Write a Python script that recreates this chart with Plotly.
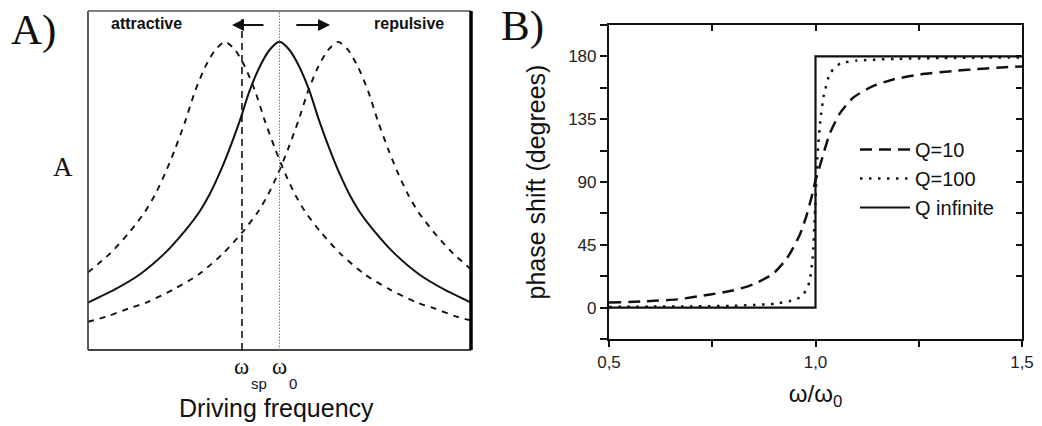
import plotly.graph_objects as go

# ---------------- Panel A data (normalised driving frequency, amplitude a.u.) ----------------
omega_0 = 1.0
omega_sp = 0.902

a_x_center = [0.500, 0.569, 0.634, 0.700, 0.752, 0.791, 0.817, 0.843, 0.869, 0.896, 0.922, 0.948, 0.974,
              1.000, 1.026, 1.052, 1.078, 1.104, 1.131, 1.157, 1.183, 1.209, 1.248, 1.300, 1.366, 1.431, 1.500]
a_y_center = [0.140, 0.178, 0.222, 0.285, 0.350, 0.408, 0.458, 0.520, 0.592, 0.675, 0.765, 0.835, 0.885,
              0.909, 0.885, 0.835, 0.765, 0.675, 0.592, 0.520, 0.458, 0.408, 0.350, 0.285, 0.222, 0.178, 0.140]

a_x_left = [0.500, 0.558, 0.610, 0.649, 0.675, 0.701, 0.727, 0.754, 0.780, 0.806, 0.832, 0.858, 0.884,
            0.910, 0.936, 0.962, 0.989, 1.015, 1.041, 1.067, 1.106, 1.158, 1.224, 1.289, 1.359, 1.406,
            1.458, 1.500]
a_y_left = [0.229, 0.285, 0.350, 0.408, 0.458, 0.520, 0.592, 0.675, 0.765, 0.835, 0.885, 0.909, 0.885,
            0.835, 0.765, 0.675, 0.592, 0.520, 0.458, 0.408, 0.350, 0.285, 0.222, 0.178, 0.140, 0.122,
            0.100, 0.087]

a_x_right = [0.500, 0.552, 0.605, 0.652, 0.722, 0.788, 0.853, 0.905, 0.944, 0.970, 0.996, 1.022, 1.049,
             1.075, 1.101, 1.127, 1.153, 1.179, 1.205, 1.231, 1.257, 1.284, 1.310, 1.336, 1.362, 1.401,
             1.453, 1.500]
a_y_right = [0.083, 0.100, 0.122, 0.140, 0.178, 0.222, 0.285, 0.350, 0.408, 0.458, 0.520, 0.592, 0.675,
             0.765, 0.835, 0.885, 0.909, 0.885, 0.835, 0.765, 0.675, 0.592, 0.520, 0.458, 0.408, 0.350,
             0.285, 0.238]

# ---------------- Panel B data (phase shift in degrees vs omega/omega_0) ----------------
b_x_q10 = [0.5, 0.592, 0.665, 0.745, 0.8, 0.849, 0.897, 0.931, 0.962, 0.979, 0.992, 0.999, 1.016,
           1.035, 1.059, 1.091, 1.139, 1.188, 1.253, 1.333, 1.406, 1.459, 1.5]
b_y_q10 = [3.6, 4.6, 5.9, 9.4, 12.2, 16.7, 24.2, 35.4, 52.2, 66.7, 81.0, 90.0, 107.0,
           125.0, 139.2, 150.4, 158.7, 163.5, 167.0, 169.5, 171.2, 172.3, 172.8]

b_x_q100 = [0.5, 0.6, 0.7, 0.8, 0.9, 0.95, 0.97, 0.985, 0.993, 0.999, 1.005, 1.012, 1.02, 1.035,
            1.06, 1.1, 1.2, 1.3, 1.4, 1.5]
b_y_q100 = [0.5, 0.7, 0.9, 1.3, 2.7, 5.5, 9.0, 18.0, 35.0, 70.0, 110.0, 135.0, 152.0, 168.0,
            175.0, 177.0, 178.3, 178.8, 179.1, 179.3]

b_x_qinf = [0.5, 1.0, 1.0, 1.5]
b_y_qinf = [0.0, 0.0, 180.0, 180.0]

b_xtick_vals = [0.5, 1.0, 1.5]
b_xtick_text = ["0,5", "1,0", "1,5"]
b_ytick_vals = [0, 45, 90, 135, 180]

SANS = "Liberation Sans, Arial, sans-serif"
SERIF = "Liberation Serif, Times New Roman, serif"
INK = "#111111"

fig = go.Figure()

# Panel A curves
fig.add_trace(go.Scatter(x=a_x_left, y=a_y_left, mode="lines", line=dict(color=INK, width=1.9, dash="6px,6px", shape="spline", smoothing=0.7),
                         xaxis="x", yaxis="y", showlegend=False, hoverinfo="skip"))
fig.add_trace(go.Scatter(x=a_x_right, y=a_y_right, mode="lines", line=dict(color=INK, width=1.9, dash="6px,6px", shape="spline", smoothing=0.7),
                         xaxis="x", yaxis="y", showlegend=False, hoverinfo="skip"))
fig.add_trace(go.Scatter(x=a_x_center, y=a_y_center, mode="lines", line=dict(color=INK, width=2, shape="spline", smoothing=0.7),
                         xaxis="x", yaxis="y", showlegend=False, hoverinfo="skip"))

# Panel B curves
fig.add_trace(go.Scatter(x=b_x_q10, y=b_y_q10, mode="lines", name="Q=10",
                         line=dict(color=INK, width=2.5, dash="12px,7px", shape="spline", smoothing=0.6),
                         xaxis="x2", yaxis="y2"))
fig.add_trace(go.Scatter(x=b_x_q100, y=b_y_q100, mode="lines", name="Q=100",
                         line=dict(color=INK, width=2.5, dash="2.5px,6.5px", shape="spline", smoothing=0.4),
                         xaxis="x2", yaxis="y2"))
fig.add_trace(go.Scatter(x=b_x_qinf, y=b_y_qinf, mode="lines", name="Q infinite",
                         line=dict(color=INK, width=2.2),
                         xaxis="x2", yaxis="y2"))
# helper (empty) trace so the mirrored tick axes of panel B are drawn
fig.add_trace(go.Scatter(x=[], y=[], xaxis="x3", yaxis="y3", showlegend=False, hoverinfo="skip"))

W, H = 1042, 426
A_dom_x = [88 / W, 471 / W]
A_dom_y = [1 - 350 / H, 1 - 11 / H]
B_dom_x = [609 / W, 1022 / W]
B_dom_y = [1 - 339 / H, 1 - 25 / H]

b_xrange = [0.5, 1.5]
b_yrange = [-22.5, 202.5]

fig.update_layout(
    width=W, height=H,
    margin=dict(l=0, r=0, t=0, b=0, autoexpand=False),
    paper_bgcolor="white", plot_bgcolor="white",
    font=dict(family=SANS, color=INK),
    xaxis=dict(domain=A_dom_x, range=[0.5, 1.5], showgrid=False, zeroline=False, showticklabels=False,
               ticks="", showline=False, anchor="y", automargin=False),
    yaxis=dict(domain=A_dom_y, range=[0, 1], showgrid=False, zeroline=False, showticklabels=False,
               ticks="", showline=False, anchor="x", automargin=False),
    xaxis2=dict(domain=B_dom_x, range=b_xrange, anchor="y2", showgrid=False, zeroline=False, automargin=False,
                showline=True, linecolor=INK, linewidth=2.2, mirror=True,
                tickmode="array", tickvals=b_xtick_vals, ticktext=b_xtick_text,
                ticks="outside", ticklen=6, tickwidth=2, tickcolor=INK,
                minor=dict(tickvals=[0.75, 1.25], ticks="outside", ticklen=6, tickwidth=2, tickcolor=INK, showgrid=False),
                tickfont=dict(size=17, family=SANS, color="#222"),
                title=dict(text="ω/ω<sub>0</sub>", font=dict(size=24, family=SANS, color=INK))),
    yaxis2=dict(domain=B_dom_y, range=b_yrange, anchor="x2", showgrid=False, zeroline=False, automargin=False,
                showline=True, linecolor=INK, linewidth=2.2, mirror=True,
                tickmode="array", tickvals=b_ytick_vals,
                ticks="outside", ticklen=7, tickwidth=2, tickcolor=INK,
                minor=dict(tickvals=[-22.5, 22.5, 67.5, 112.5, 157.5, 202.5], ticks="outside", ticklen=7, tickwidth=2, tickcolor=INK, showgrid=False),
                tickfont=dict(size=17, family=SANS, color="#222"),
                title=dict(text="phase shift (degrees)", font=dict(size=25, family=SANS, color=INK))),
    xaxis3=dict(overlaying="x2", side="top", anchor="y2", range=b_xrange, showgrid=False, zeroline=False,
                automargin=False, showline=False, showticklabels=False, tickmode="array", tickvals=[0.75, 1.0, 1.25],
                ticks="inside", ticklen=6, tickwidth=2, tickcolor=INK),
    yaxis3=dict(overlaying="y2", side="right", anchor="x2", range=b_yrange, showgrid=False, zeroline=False,
                automargin=False, showline=False, showticklabels=False, tickmode="array",
                tickvals=[22.5, 45, 67.5, 90, 112.5, 135, 157.5, 180],
                ticks="inside", ticklen=6, tickwidth=2, tickcolor=INK),
    legend=dict(x=855 / W, y=1 - 130 / H, xanchor="left", yanchor="top", bgcolor="rgba(0,0,0,0)",
                font=dict(size=20, family=SANS, color=INK), tracegroupgap=0, itemwidth=50),
    showlegend=True,
)

# Panel A frame
frame = [
    dict(x0=0, x1=0, y0=0, y1=1, color="#333", width=1.6),
    dict(x0=0, x1=1, y0=1, y1=1, color="#555", width=1.6),
    dict(x0=0, x1=1, y0=0, y1=0, color="#444", width=2.2),
    dict(x0=1, x1=1, y0=0, y1=1, color="#000", width=3.5),
]
for f in frame:
    fig.add_shape(type="line", xref="x domain", yref="y domain", x0=f["x0"], x1=f["x1"], y0=f["y0"], y1=f["y1"],
                  line=dict(color=f["color"], width=f["width"]))

# reference lines in panel A
fig.add_shape(type="line", xref="x", yref="y domain", x0=omega_sp, x1=omega_sp, y0=0, y1=0.988,
              line=dict(color=INK, width=1.6, dash="7px,5px"))
fig.add_shape(type="line", xref="x", yref="y domain", x0=omega_0, x1=omega_0, y0=0, y1=1,
              line=dict(color="#777", width=1, dash="1.5px,1.5px"))

# arrows
arrow_y = 1 - 25 / H
fig.add_annotation(x=omega_0 - 0.124, y=arrow_y, xref="x", yref="paper", ax=omega_0 - 0.038, ay=0,
                   axref="x", ayref="pixel", showarrow=True, arrowhead=2, arrowsize=1.2, arrowwidth=2,
                   arrowcolor=INK, text="")
fig.add_annotation(x=omega_0 + 0.132, y=arrow_y, xref="x", yref="paper", ax=omega_0 + 0.040, ay=0,
                   axref="x", ayref="pixel", showarrow=True, arrowhead=2, arrowsize=1.2, arrowwidth=2,
                   arrowcolor=INK, text="")

annots = [
    dict(text="<b>attractive</b>", x=146 / W, y=1 - 23 / H, size=16, family=SANS),
    dict(text="<b>repulsive</b>", x=409 / W, y=1 - 23 / H, size=16, family=SANS),
    dict(text="A", x=63 / W, y=1 - 167 / H, size=27, family=SERIF),
    dict(text="A)", x=33 / W, y=1 - 30 / H, size=43, family=SERIF),
    dict(text="B)", x=522 / W, y=1 - 26 / H, size=43, family=SERIF),
    dict(text="Driving frequency", x=276 / W, y=1 - 408 / H, size=25, family=SANS),
]
for a in annots:
    fig.add_annotation(text=a["text"], x=a["x"], y=a["y"], xref="paper", yref="paper", showarrow=False,
                       xanchor="center", yanchor="middle", font=dict(size=a["size"], family=a["family"], color=INK))

# omega labels under panel A
fig.add_annotation(text="ω", x=omega_sp, y=1 - 366 / H, xref="x", yref="paper", showarrow=False,
                   xanchor="center", yanchor="middle", font=dict(size=23, family=SERIF, color=INK))
fig.add_annotation(text="sp", x=omega_sp, xshift=17, y=1 - 383 / H, xref="x", yref="paper", showarrow=False,
                   xanchor="center", yanchor="middle", font=dict(size=15, family=SANS, color=INK))
fig.add_annotation(text="ω", x=omega_0, y=1 - 366 / H, xref="x", yref="paper", showarrow=False,
                   xanchor="center", yanchor="middle", font=dict(size=23, family=SERIF, color=INK))
fig.add_annotation(text="0", x=omega_0, xshift=13, y=1 - 383 / H, xref="x", yref="paper", showarrow=False,
                   xanchor="center", yanchor="middle", font=dict(size=15, family=SANS, color=INK))

fig.write_html("out.html", config={"displayModeBar": False},
               post_script="document.body.style.margin='0';document.body.style.overflow='hidden';")
